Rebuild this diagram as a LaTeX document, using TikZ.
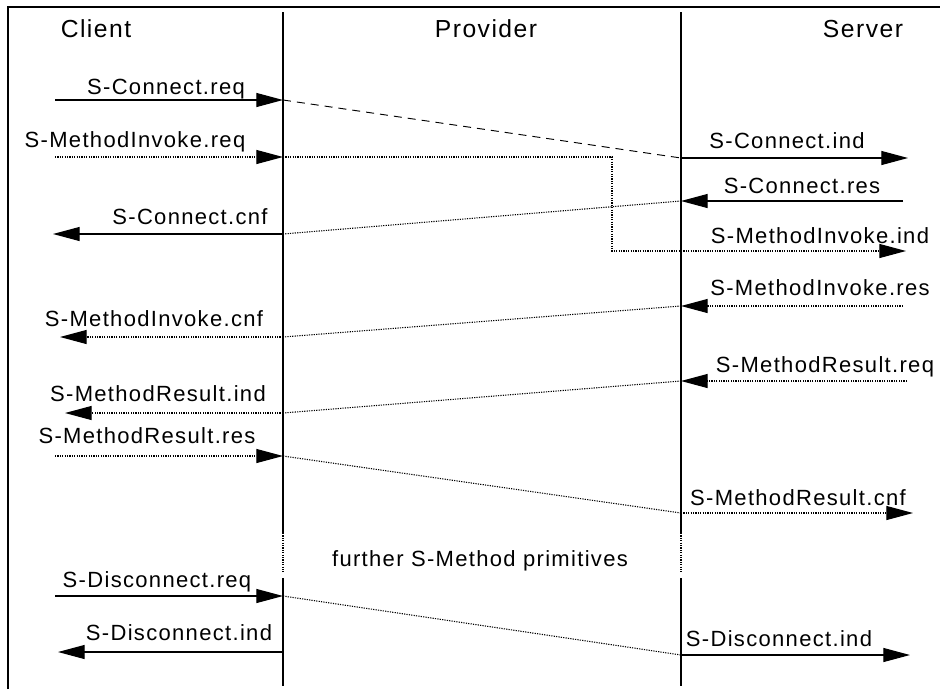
\documentclass[tikz,border=0pt]{standalone}
\usepackage{fontspec}
\setmainfont{Liberation Sans}[LetterSpace=6]
\usetikzlibrary{arrows.meta,positioning}

\tikzset{
  msg/.style={-{Triangle[length=20pt,width=10.5pt]}, line width=0.8pt},
  msgdot/.style={msg, dash pattern=on 0.9pt off 0.9pt},
  relay/.style={line width=0.8pt, dash pattern=on 0.9pt off 0.9pt},
  lifeline/.style={line width=0.9pt},
  lbl/.style={anchor=base, inner sep=0pt, font=\fontsize{16.5}{18}\selectfont},
  head/.style={lbl, font=\fontsize{18.5}{20}\selectfont},
}

\begin{document}
\begin{tikzpicture}[x=0.75pt, y=-0.75pt]
  \useasboundingbox (0,0) rectangle (944,689);

  % Rahmen
  \draw[lifeline] (8,689) -- (8,7) -- (940,7);

  % Kopfzeile
  \node[head] (client) at (96,37) {Client};
  \node[head] (provider) at (486,37) {Provider};
  \node[head] (server) at (863,37) {Server};

  % Lebenslinien mit Luecke
  \foreach \n/\x in {cl/283,sv/681} {
    \coordinate (\n-top) at (\x,12);
    \coordinate (\n-g1) at (\x,533);
    \coordinate (\n-g2) at (\x,572);
    \coordinate (\n-g3) at (\x,578);
    \coordinate (\n-bot) at (\x,686);
    \draw[lifeline] (\n-top) -- (\n-g1);
    \draw[relay] (\n-g1) -- (\n-g2);
    \draw[lifeline] (\n-g3) -- (\n-bot);
  }
  \node[lbl] (further) at (480,566) {further S-Method primitives};

  % Primitive, durchgezogen
  \foreach \n/\xa/\xb/\y/\lx/\ly/\t in {
      ccreq/55/283/100/166/94/S-Connect.req,
      cccnf/283/53/234/190/224/S-Connect.cnf,
      dcreq/55/283/596/157/587/S-Disconnect.req,
      dcind/283/58/652/179/640/S-Disconnect.ind,
      ccind/681/908/158/787/148/S-Connect.ind,
      ccres/903/681/201/802/193/S-Connect.res,
      dcindb/681/910/655/779/646/S-Disconnect.ind} {
    \coordinate (\n-s) at (\xa,\y);
    \coordinate (\n-e) at (\xb,\y);
    \draw[msg] (\n-s) -- (\n-e);
    \node[lbl] (\n) at (\lx,\ly) {\t};
  }

  % Primitive, gepunktet
  \foreach \n/\xa/\xb/\y/\lx/\ly/\t in {
      mireq/55/283/157/135/147/S-MethodInvoke.req,
      micnf/283/60/337/154/326/S-MethodInvoke.cnf,
      mrind/283/65/413/158/401/S-MethodResult.ind,
      mrres/55/283/456/147/443/S-MethodResult.res,
      miind/681/906/251/820/243/S-MethodInvoke.ind,
      mires/903/681/306/820/295/S-MethodInvoke.res,
      mrreq/907/681/381/825/372/S-MethodResult.req,
      mrcnf/681/913/513/798/505/S-MethodResult.cnf} {
    \coordinate (\n-s) at (\xa,\y);
    \coordinate (\n-e) at (\xb,\y);
    \draw[msgdot] (\n-s) -- (\n-e);
    \node[lbl] (\n) at (\lx,\ly) {\t};
  }

  % Weiterleitung durch den Provider
  \coordinate (kink) at (612,251);
  \draw[line width=0.7pt, dash pattern=on 6pt off 4.5pt] (ccreq-e) -- (ccind-s);
  \draw[relay] (mireq-e) -| (kink) -- (miind-s);
  \draw[relay] (ccres-e) -- (cccnf-s);
  \draw[relay] (mires-e) -- (micnf-s);
  \draw[relay] (mrreq-e) -- (mrind-s);
  \draw[relay] (mrres-e) -- (mrcnf-s);
  \draw[relay] (dcreq-e) -- (dcindb-s);
\end{tikzpicture}
\end{document}
